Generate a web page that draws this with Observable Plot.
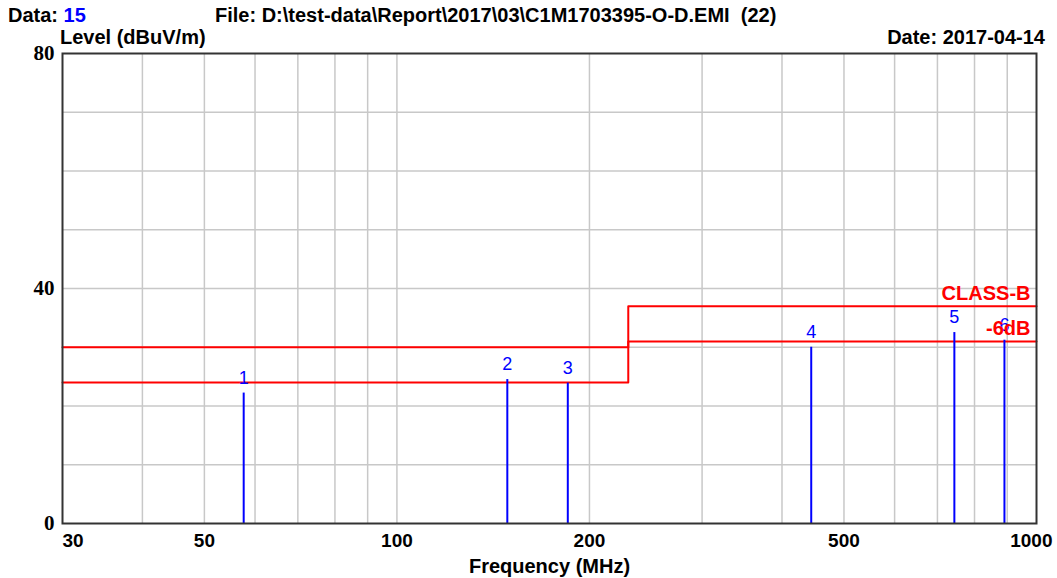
<!DOCTYPE html>
<html>
<head>
<meta charset="utf-8">
<script src="https://cdn.jsdelivr.net/npm/d3@7"></script>
<script src="https://cdn.jsdelivr.net/npm/@observablehq/plot@0.6"></script>
<style>
  html, body { margin: 0; padding: 0; background: #fff; }
  #wrap { position: relative; width: 1057px; height: 578px; overflow: hidden; }
  .hdr { position: absolute; font-family: "Liberation Sans", Arial, sans-serif; font-weight: bold; font-size: 20px; color: #000; white-space: pre; line-height: 1; }
  #chart { position: absolute; left: 0; top: 0; }
</style>
</head>
<body>
<div id="wrap">
  <div id="chart"></div>
  <div class="hdr" style="left:8px; top:5px;">Data: <span style="color:#0000ff">15</span></div>
  <div class="hdr" style="left:215px; top:5px;">File: D:\test-data\Report\2017\03\C1M1703395-O-D.EMI  (22)</div>
  <div class="hdr" style="left:60px; top:27px;">Level (dBuV/m)</div>
  <div class="hdr" style="right:12px; top:27px;">Date: 2017-04-14</div>
</div>
<script>
// ---- data ----
const markerNo = [1, 2, 3, 4, 5, 6];
const markerFreq = [57.6, 148.8, 185.0, 444.4, 744, 891];     // MHz
const markerLevel = [22.2, 24.5, 23.9, 30.0, 32.5, 31.2];     // dBuV/m
const limitFreq = [30, 230, 230, 1000];
const classBLimit = [30, 30, 37, 37];
const minus6Limit = [24, 24, 31, 31];
const xTicks = [30, 50, 100, 200, 500, 1000];
const xGrid = [40, 50, 60, 70, 80, 90, 100, 200, 300, 400, 500, 600, 700, 800, 900];
const yTicks = [0, 40, 80];
const yGrid = [10, 20, 30, 40, 50, 60, 70];

const markers = markerNo.map((n, i) => ({n, f: markerFreq[i], v: markerLevel[i]}));
const classB = limitFreq.map((f, i) => ({f, v: classBLimit[i]}));
const minus6 = limitFreq.map((f, i) => ({f, v: minus6Limit[i]}));

const sans = '"Liberation Sans", Arial, sans-serif';
const serif = '"Liberation Serif", "Times New Roman", serif';
const tickFont = {fill: "#000", fontFamily: sans, fontWeight: "bold", fontSize: 19};

const chart = Plot.plot({
  width: 1057,
  height: 578,
  marginLeft: 62,
  marginRight: 21,
  marginTop: 53,
  marginBottom: 55,
  style: {background: "#fff", overflow: "visible"},
  x: {type: "log", domain: [30, 1000], axis: null},
  y: {domain: [0, 80], axis: null},
  marks: [
    Plot.ruleX(xGrid, {x: d => d, stroke: "#c8c8c8", strokeWidth: 1.5}),
    Plot.ruleY(yGrid, {y: d => d, stroke: "#c8c8c8", strokeWidth: 1.5}),
    Plot.line(classB, {x: "f", y: "v", stroke: "#ff0000", strokeWidth: 2, curve: "linear"}),
    Plot.line(minus6, {x: "f", y: "v", stroke: "#ff0000", strokeWidth: 2, curve: "linear"}),
    Plot.ruleX(markers, {x: "f", y1: 0, y2: "v", stroke: "#0000ff", strokeWidth: 2}),
    Plot.text(markers, {x: "f", y: "v", text: d => String(d.n), dy: -15, fill: "#0000ff",
      fontFamily: sans, fontSize: 18}),
    Plot.text(["CLASS-B"], {frameAnchor: "right", y: () => classBLimit[3], text: d => d, textAnchor: "end",
      dx: -6, dy: -13, fill: "#ff0000", fontFamily: sans, fontWeight: "bold", fontSize: 20}),
    Plot.text(["-6dB"], {frameAnchor: "right", y: () => minus6Limit[3], text: d => d, textAnchor: "end",
      dx: -6, dy: -13, fill: "#ff0000", fontFamily: sans, fontWeight: "bold", fontSize: 20}),
    Plot.frame({stroke: "#333", strokeWidth: 2}),
    Plot.text(yTicks, {y: d => d, frameAnchor: "left", text: d => String(d), textAnchor: "end", dx: -8,
      fill: "#000", fontFamily: serif, fontWeight: "bold", fontSize: 21}),
    Plot.text(xTicks.slice(0, 1), {x: d => d, frameAnchor: "bottom", text: d => String(d), textAnchor: "start",
      dy: 23, ...tickFont}),
    Plot.text(xTicks.slice(1, -1), {x: d => d, frameAnchor: "bottom", text: d => String(d), textAnchor: "middle",
      dy: 23, ...tickFont}),
    Plot.text(xTicks.slice(-1), {x: d => d, frameAnchor: "bottom", text: d => String(d), textAnchor: "end",
      dx: 16, dy: 23, ...tickFont}),
    Plot.text(["Frequency (MHz)"], {frameAnchor: "bottom", text: d => d, dy: 49, fill: "#000",
      fontFamily: sans, fontWeight: "bold", fontSize: 20})
  ]
});
document.getElementById("chart").appendChild(chart);
</script>
</body>
</html>
